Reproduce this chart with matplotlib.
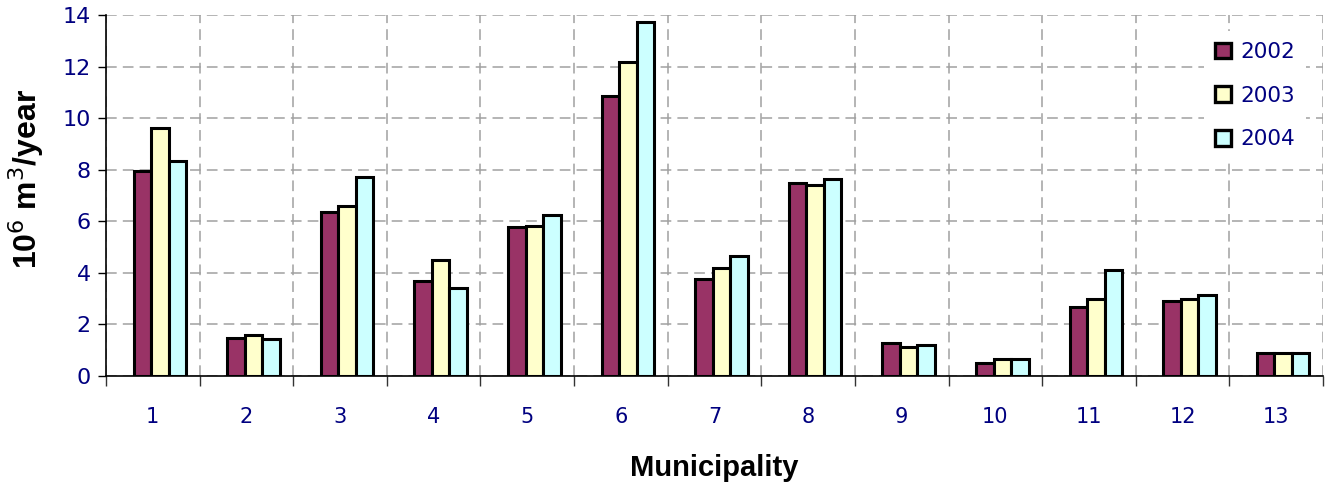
import matplotlib
matplotlib.use('Agg')
from matplotlib import pyplot as plt
import numpy as np

# 每个市镇的年用水量（10^6 m3/year）
municipalities = ['1', '2', '3', '4', '5', '6', '7', '8', '9', '10', '11', '12', '13']
years = ['2002', '2003', '2004']
v2002 = [7.95, 1.49, 6.36, 3.70, 5.76, 10.84, 3.78, 7.49, 1.27, 0.49, 2.69, 2.90, 0.91]
v2003 = [9.60, 1.59, 6.59, 4.49, 5.81, 12.19, 4.20, 7.39, 1.13, 0.66, 3.00, 2.99, 0.91]
v2004 = [8.35, 1.44, 7.71, 3.42, 6.23, 13.74, 4.66, 7.64, 1.20, 0.66, 4.11, 3.15, 0.91]
colors = ['#993366', '#FFFFCC', '#CCFFFF']

navy = '#000080'
plt.rcParams['font.family'] = ['DejaVu Sans']

fig = plt.figure(figsize=(13.3, 4.91), dpi=100)
ax = fig.add_axes([0.0797, 0.2342, 0.9150, 0.7353])

x = np.arange(len(municipalities))
w = 0.187
shift = 0.075  # 柱组略偏右
for i, (vals, c, lab) in enumerate(zip([v2002, v2003, v2004], colors, years)):
	ax.bar(x + shift + (i - 1) * w, vals, width=w, color=c, edgecolor='black',
		   linewidth=2.2, label=lab, zorder=3)

ax.set_xlim(-0.5, len(municipalities) - 0.5)
ax.set_ylim(0, 14)
ax.set_yticks(np.arange(0, 15, 2))

# 主刻度放在分类边界，标签用次刻度放在中心
ax.set_xticks(np.arange(-0.5, len(municipalities), 1))
ax.set_xticklabels([])
ax.set_xticks(x, minor=True)
ax.set_xticklabels(municipalities, minor=True)
ax.tick_params(axis='x', which='major', length=7, width=1, direction='out', color='#333333')
ax.tick_params(axis='x', which='minor', length=0, pad=22, labelsize=15, labelcolor=navy)
ax.tick_params(axis='y', length=6, width=1, direction='out', labelsize=16, labelcolor=navy, pad=5)

ax.grid(True, which='major', axis='both', color='#A0A0A0', linestyle=(0, (7, 4)), linewidth=1.1, zorder=0)
for s in ['top', 'right']:
	ax.spines[s].set_visible(False)
for s in ['left', 'bottom']:
	ax.spines[s].set_linewidth(1.2)

ax.set_ylabel(r'10$^6$ m$^3$/year', fontsize=23, fontweight='bold',
			  family=['Liberation Sans', 'DejaVu Sans'])
ax.yaxis.set_label_coords(-0.049, 0.545)
ax.set_xlabel('Municipality', fontsize=21, fontweight='bold',
			  family=['Liberation Sans', 'DejaVu Sans'], labelpad=20)

leg = ax.legend(loc='upper right', bbox_to_anchor=(0.995, 0.985), frameon=True,
				facecolor='white', edgecolor='none', framealpha=1, fontsize=15.5,
				handlelength=0.75, handleheight=0.75, handletextpad=0.45,
				labelspacing=1.1, borderpad=0.5)
for t in leg.get_texts():
	t.set_color(navy)
for p in leg.get_patches():
	p.set_linewidth(2.4)
leg.set_zorder(5)

fig.savefig('out.png', dpi=100, facecolor='white')
